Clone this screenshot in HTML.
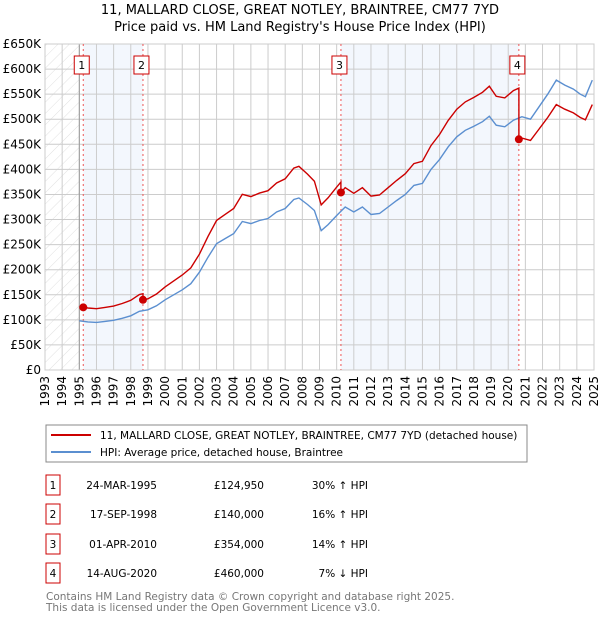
<!DOCTYPE html>
<html><head><meta charset="utf-8"><style>
body{margin:0;background:#fff;font-family:"DejaVu Sans","Liberation Sans",sans-serif;}
svg text{font-family:"DejaVu Sans","Liberation Sans",sans-serif;}
</style></head><body>
<svg id="chart" width="600" height="620" xmlns="http://www.w3.org/2000/svg">
<defs><pattern id="hatch" width="8" height="8" patternUnits="userSpaceOnUse" patternTransform="rotate(45)"><line x1="0" y1="0" x2="0" y2="8" stroke="#d8d8d8" stroke-width="0.8"/></pattern></defs>
<text x="300" y="14" text-anchor="middle" font-size="13">11, MALLARD CLOSE, GREAT NOTLEY, BRAINTREE, CM77 7YD</text>
<text x="300" y="31" text-anchor="middle" font-size="13">Price paid vs. HM Land Registry's House Price Index (HPI)</text>
<g id="plot"></g>
<g>
<rect x="46" y="425" width="481" height="37" fill="#fff" stroke="#888"/>
<line x1="51" y1="435" x2="91" y2="435" stroke="#cc0000" stroke-width="2"/>
<text x="100" y="439" font-size="10.5">11, MALLARD CLOSE, GREAT NOTLEY, BRAINTREE, CM77 7YD (detached house)</text>
<line x1="51" y1="452" x2="91" y2="452" stroke="#5b8fd0" stroke-width="2"/>
<text x="100" y="456" font-size="10.5">HPI: Average price, detached house, Braintree</text>
</g>
<g id="table" font-size="10.5"></g>
<text x="46" y="600" font-size="10.5" fill="#777">Contains HM Land Registry data © Crown copyright and database right 2025.</text>
<text x="46" y="611" font-size="10.5" fill="#777">This data is licensed under the Open Government Licence v3.0.</text>
</svg>
<script>
const hpiYears=[1995.0,1995.5,1996,1996.5,1997,1997.5,1998,1998.5,1999,1999.5,2000,2000.5,2001,2001.5,2002,2002.5,2003,2003.5,2004,2004.5,2005,2005.5,2006,2006.5,2007,2007.5,2007.8,2008.3,2008.7,2009.1,2009.5,2010,2010.5,2011,2011.5,2012,2012.5,2013,2013.5,2014,2014.5,2015,2015.5,2016,2016.5,2017,2017.5,2018,2018.5,2018.9,2019.3,2019.8,2020.3,2020.8,2021.3,2021.8,2022.3,2022.8,2023.3,2023.8,2024.2,2024.5,2024.9];
const hpiValues=[98,96,95,97,99,103,108,117,120,128,140,150,160,172,195,225,252,262,272,296,292,298,302,315,322,340,343,330,318,278,290,308,325,315,325,310,312,325,338,350,368,372,400,420,445,465,478,486,495,506,488,485,498,505,500,525,550,578,568,560,550,545,578];
const saleYears=[1995.23,1998.71,2010.25,2020.62];
const salePrices=[124.95,140,354,460];
const saleLabels=["1","2","3","4"];
const saleDates=["24-MAR-1995","17-SEP-1998","01-APR-2010","14-AUG-2020"];
const salePriceText=["£124,950","£140,000","£354,000","£460,000"];
const saleHpiText=["30% ↑ HPI","16% ↑ HPI","14% ↑ HPI","7% ↓ HPI"];
const yTicks=[0,50,100,150,200,250,300,350,400,450,500,550,600,650];
const yTickLabels=["£0","£50K","£100K","£150K","£200K","£250K","£300K","£350K","£400K","£450K","£500K","£550K","£600K","£650K"];
const xTicks=[];for(let y=1993;y<=2025;y++)xTicks.push(y);

const X0=45,X1=594,Y0=370,Y1=44;
const xs=y=>X0+(y-1993)/(2025-1993)*(X1-X0);
const ys=v=>Y0-v/650*(Y0-Y1);
const NS="http://www.w3.org/2000/svg";
const plot=document.getElementById('plot');
function mk(tag,attrs,parent){const e=document.createElementNS(NS,tag);for(const k in attrs)e.setAttribute(k,attrs[k]);(parent||plot).appendChild(e);return e;}
function hpiAt(t){if(t<=hpiYears[0])return hpiValues[0];for(let i=1;i<hpiYears.length;i++){if(t<=hpiYears[i]){const f=(t-hpiYears[i-1])/(hpiYears[i]-hpiYears[i-1]);return hpiValues[i-1]+f*(hpiValues[i]-hpiValues[i-1]);}}return hpiValues[hpiValues.length-1];}

let r=mk('rect',{x:X0,y:Y1,width:X1-X0,height:Y0-Y1,fill:'#fff'});

r=mk('rect',{x:X0,y:Y1,width:xs(1995)-X0,height:Y0-Y1,fill:'url(#hatch)'});

[[0,1],[2,3]].forEach((p,i)=>{const b=mk('rect',{x:xs(saleYears[p[0]]),y:Y1,width:xs(saleYears[p[1]])-xs(saleYears[p[0]]),height:Y0-Y1,fill:'#eef3fc',opacity:0.7});
});
xTicks.forEach(t=>{const l=mk('line',{x1:xs(t),x2:xs(t),y1:Y1,y2:Y0,stroke:'#ccc','stroke-width':1});

const tx=mk('text',{x:0,y:0,'font-size':12,'text-anchor':'end',transform:`translate(${xs(t)+4},${Y0+6}) rotate(-90)`});tx.textContent=t;
});
yTicks.forEach((t,i)=>{const l=mk('line',{x1:X0,x2:X1,y1:ys(t),y2:ys(t),stroke:'#ccc','stroke-width':1});

const tx=mk('text',{x:41,y:ys(t)+4,'font-size':12,'text-anchor':'end'});tx.textContent=yTickLabels[i];
});
r=mk('line',{x1:xs(1995),x2:xs(1995),y1:Y1,y2:Y0,stroke:'#999'});

r=mk('rect',{x:X0,y:Y1,width:X1-X0,height:Y0-Y1,fill:'none',stroke:'#ccc'});


saleYears.forEach((s,i)=>{const l=mk('line',{x1:xs(s),x2:xs(s),y1:Y1,y2:Y0,stroke:'#e55','stroke-width':1,'stroke-dasharray':'2,3'});
});

let d='';hpiYears.forEach((y,i)=>{d+=(i?'L':'M')+xs(y).toFixed(1)+','+ys(hpiValues[i]).toFixed(1);});
let p=mk('path',{d:d,fill:'none',stroke:'#5b8fd0','stroke-width':1.4});

const ratios=saleYears.map((s,i)=>salePrices[i]/hpiAt(s));
const times=[...new Set([...hpiYears.filter(y=>y>=saleYears[0]),...saleYears])].sort((a,b)=>a-b);
d='';let first=true;
times.forEach(t=>{let k=0;for(let i=0;i<saleYears.length;i++)if(t>=saleYears[i])k=i;
if(saleYears.includes(t)&&k>0){const prev=hpiAt(t)*ratios[k-1];d+='L'+xs(t).toFixed(1)+','+ys(prev).toFixed(1);}
d+=(first?'M':'L')+xs(t).toFixed(1)+','+ys(hpiAt(t)*ratios[k]).toFixed(1);first=false;});
p=mk('path',{d:d,fill:'none',stroke:'#cc0000','stroke-width':1.4});


saleYears.forEach((s,i)=>{const c=mk('circle',{cx:xs(s),cy:ys(salePrices[i]),r:4,fill:'#cc0000'});

const bx=mk('rect',{x:xs(s)-9,y:56,width:15,height:18,fill:'#fff',stroke:'#cc0000'});

const t=mk('text',{x:xs(s)-1.5,y:69,'font-size':11,'text-anchor':'middle'});t.textContent=saleLabels[i];
});

const tbl=document.getElementById('table');
const rowY=[485,514,544,573];
saleLabels.forEach((lab,i)=>{const y=rowY[i];
const b=mk('rect',{x:46,y:y-10,width:14,height:20,fill:'#fff',stroke:'#cc0000'},tbl);

const t0=mk('text',{x:53,y:y+4,'text-anchor':'middle'},tbl);t0.textContent=lab;

const t1=mk('text',{x:157,y:y+4,'text-anchor':'end'},tbl);t1.textContent=saleDates[i];

const t2=mk('text',{x:264,y:y+4,'text-anchor':'end'},tbl);t2.textContent=salePriceText[i];

const t3=mk('text',{x:368,y:y+4,'text-anchor':'end'},tbl);t3.textContent=saleHpiText[i];
});
</script>
</body></html>
